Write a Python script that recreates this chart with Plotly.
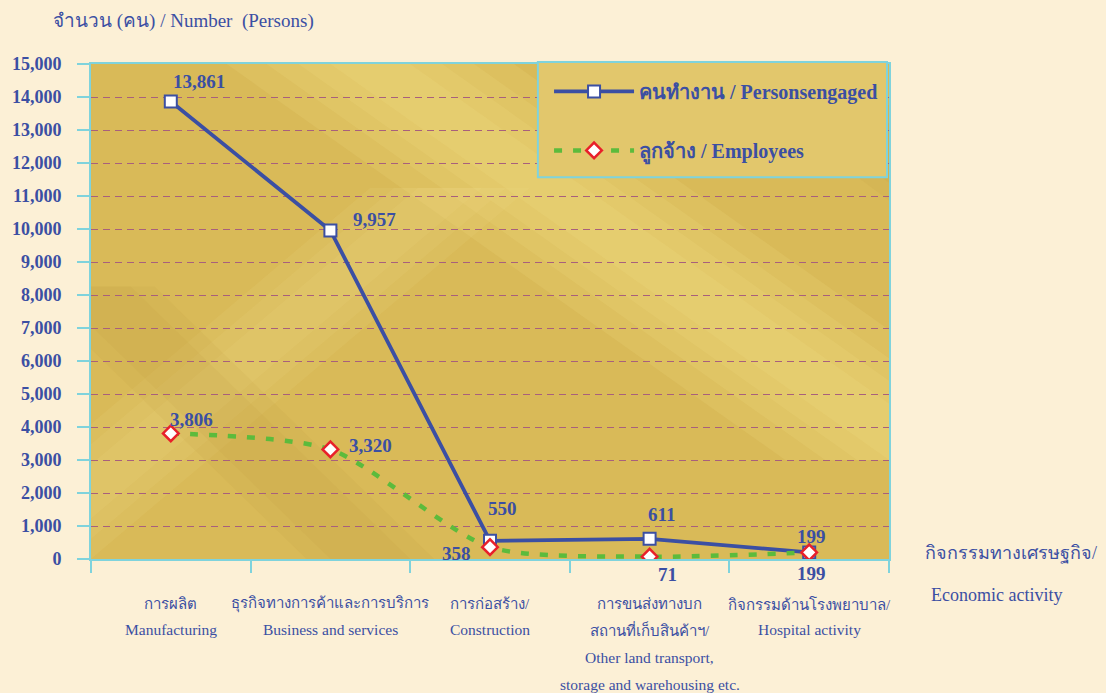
import plotly.graph_objects as go

categories = ["mfg", "biz", "con", "trn", "hos"]
tick_thai = [["การผลิต"], ["ธุรกิจทางการค้าและการบริการ"], ["การก่อสร้าง/"],
             ["การขนส่งทางบก", "สถานที่เก็บสินค้าฯ/"], ["กิจกรรมด้านโรงพยาบาล/"]]
tick_eng = [["Manufacturing"], ["Business and services"], ["Construction"],
            ["Other land transport,", "storage and warehousing etc."], ["Hospital activity"]]
persons = [13861, 9957, 550, 611, 199]
employees = [3806, 3320, 358, 71, 199]
y_ticks = list(range(0, 15001, 1000))

BLUE = "#3b4fa3"
FONT = "Liberation Serif, Times New Roman, serif"
BG = "#fcf0d6"
CYAN = "#7fd3dc"

fig = go.Figure()
fig.add_trace(go.Scatter(
    x=categories, y=persons, mode="lines+markers",
    name="<b>คนทำงาน / Personsengaged</b>",
    line=dict(color=BLUE, width=3.8),
    marker=dict(symbol="square", size=12, color="white", line=dict(color=BLUE, width=2)),
    legendgroup="a",
))
fig.add_trace(go.Scatter(
    x=categories, y=employees, mode="lines+markers",
    name="<b>ลูกจ้าง / Employees</b>",
    line=dict(color="#5cbb3c", width=4.5, dash="8px,11px", shape="spline", smoothing=0.7),
    marker=dict(symbol="diamond", size=12, color="white", line=dict(color="#e8202a", width=2.5)),
    legendgroup="b",
))

p_shift = [(28, 20), (44, 11), (12, 32), (12, 24), (2, 16)]
e_shift = [(21, 14), (40, 4), (-34, -6), (18, -18), (2, -21)]
for i, c in enumerate(categories):
    fig.add_annotation(x=c, y=persons[i], text=f"<b>{persons[i]:,}</b>", showarrow=False,
                       xshift=p_shift[i][0], yshift=p_shift[i][1],
                       font=dict(family=FONT, size=19, color=BLUE))
    fig.add_annotation(x=c, y=employees[i], text=f"<b>{employees[i]:,}</b>", showarrow=False,
                       xshift=e_shift[i][0], yshift=e_shift[i][1],
                       font=dict(family=FONT, size=19, color=BLUE))

# category labels below the axis (one line per annotation)
line_y = [-0.091, -0.143, -0.198, -0.253]
for i, c in enumerate(categories):
    lines = [(t, 15) for t in tick_thai[i]] + [(e, 15.5) for e in tick_eng[i]]
    for j, (txt, sz) in enumerate(lines):
        fig.add_annotation(x=c, y=line_y[j], xref="x", yref="paper", text=txt, showarrow=False,
                           xanchor="center", yanchor="middle",
                           font=dict(family=FONT, size=sz, color=BLUE))


# soft golden sheen: nested translucent diagonal streaks clipped to the plot area
def clip_unit(poly):
    def clip(pts, inside, inter):
        out = []
        for k in range(len(pts)):
            a, b = pts[k - 1], pts[k]
            if inside(b):
                if not inside(a):
                    out.append(inter(a, b))
                out.append(b)
            elif inside(a):
                out.append(inter(a, b))
        return out

    def ix(v):
        return lambda a, b: (v, a[1] + (b[1] - a[1]) * (v - a[0]) / (b[0] - a[0]))

    def iy(v):
        return lambda a, b: (a[0] + (b[0] - a[0]) * (v - a[1]) / (b[1] - a[1]), v)

    pts = poly
    pts = clip(pts, lambda p: p[0] >= 0, ix(0)) if pts else pts
    pts = clip(pts, lambda p: p[0] <= 1, ix(1)) if pts else pts
    pts = clip(pts, lambda p: p[1] >= 0, iy(0)) if pts else pts
    pts = clip(pts, lambda p: p[1] <= 1, iy(1)) if pts else pts
    return pts


def streak(x0, y0, x1, y1, widths, rgb, alpha):
    for w in widths:
        poly = clip_unit([(x0 - w, y0), (x0 + w, y0), (x1 + w, y1), (x1 - w, y1)])
        if len(poly) < 3:
            continue
        path = "M " + " L ".join(f"{px:.4f} {py:.4f}" for px, py in poly) + " Z"
        fig.add_shape(type="path", path=path, xref="x domain", yref="y domain",
                      fillcolor=f"rgba({rgb},{alpha})", line=dict(width=0), layer="below")


streak(0.35, 1.0, 1.05, 0.2, [0.18, 0.13, 0.09, 0.05], "245,228,150", 0.13)
streak(-0.1, 0.0, 0.45, 0.75, [0.10, 0.07, 0.04], "245,228,150", 0.10)
streak(0.0, 0.55, 0.35, 0.0, [0.08, 0.05], "190,150,55", 0.10)
streak(0.85, 1.0, 1.1, 0.7, [0.08, 0.05], "190,150,55", 0.10)

# legend box
fig.add_shape(type="rect", xref="paper", yref="paper", x0=0.56, x1=0.9975, y0=0.771, y1=1.004,
              fillcolor="#e2c76c", line=dict(color=CYAN, width=2), layer="above")

fig.add_annotation(text="จำนวน (คน) / Number  (Persons)", xref="paper", yref="paper",
                   x=-0.05, y=1.087, xanchor="left", yanchor="middle", showarrow=False,
                   font=dict(family=FONT, size=19, color=BLUE))
fig.add_annotation(text="กิจกรรมทางเศรษฐกิจ/", xref="paper", yref="paper",
                   x=1.042, y=0.012, xanchor="left", yanchor="middle", showarrow=False,
                   font=dict(family=FONT, size=18, color=BLUE))
fig.add_annotation(text="Economic activity", xref="paper", yref="paper",
                   x=1.05, y=-0.072, xanchor="left", yanchor="middle", showarrow=False,
                   font=dict(family=FONT, size=18, color=BLUE))

fig.update_layout(
    width=1106, height=693,
    margin=dict(l=89, r=217, t=64, b=134),
    paper_bgcolor=BG,
    plot_bgcolor="#d9ba58",
    font=dict(family=FONT, color=BLUE),
    showlegend=True,
    legend=dict(
        x=0.574, y=0.984, xanchor="left", yanchor="top",
        bgcolor="rgba(0,0,0,0)", borderwidth=0,
        font=dict(family=FONT, size=20, color=BLUE),
        tracegroupgap=30, itemwidth=80,
    ),
    xaxis=dict(
        type="category", tickmode="array", tickvals=categories, showticklabels=False,
        tickson="boundaries", ticks="outside", ticklen=12, tickcolor=CYAN, tickwidth=1.5,
        showgrid=False, showline=True, linecolor=CYAN, linewidth=2, mirror=True,
        range=[-0.5, 4.5],
    ),
    yaxis=dict(
        range=[0, 15000], tickvals=y_ticks, tickformat=",", ticks="outside", ticklen=12,
        tickcolor=CYAN, tickwidth=1.5, showline=True, linecolor=CYAN, linewidth=2, mirror=True,
        showgrid=True, gridcolor="#a8607c", griddash="7px,5px", gridwidth=1,
        zeroline=False, ticklabelstandoff=12,
        tickfont=dict(family=FONT, size=18, color=BLUE, weight="bold"),
    ),
)

fig.write_html(
    "out.html",
    config={"displayModeBar": False},
    post_script=f"document.body.style.margin='0';document.body.style.background='{BG}';",
)
